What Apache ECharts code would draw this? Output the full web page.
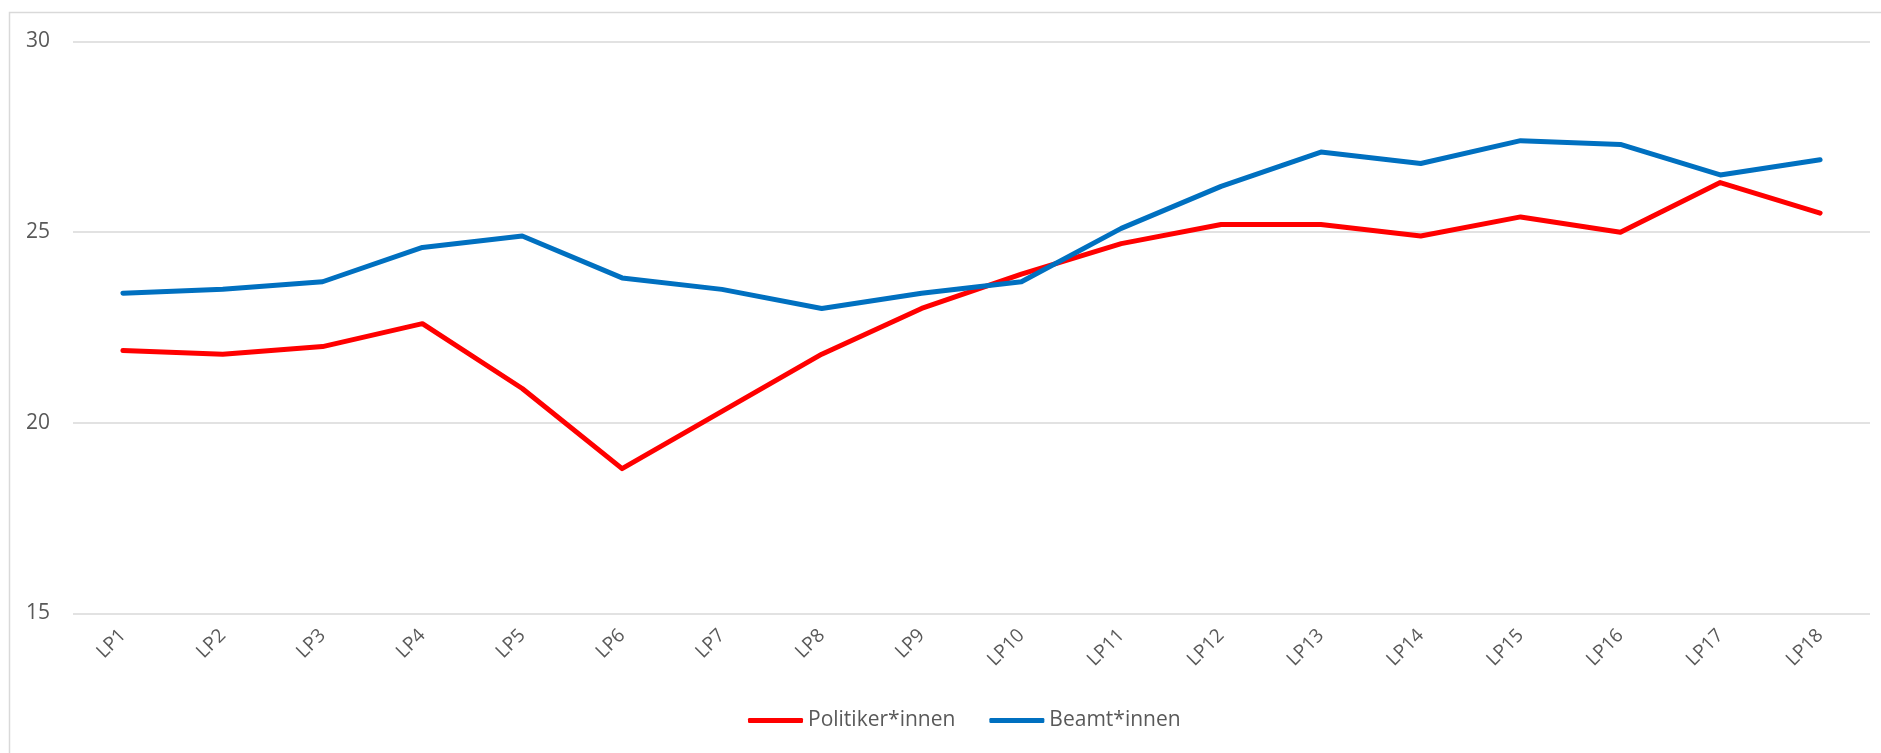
<!DOCTYPE html>
<html><head><meta charset="utf-8">
<script src="https://cdn.jsdelivr.net/npm/echarts@6/dist/echarts.min.js"></script>
<style>html,body{margin:0;padding:0;background:#fff}#c{width:1881px;height:753px}</style>
</head><body><div id="c"></div>
<script>
const categories = ['LP1','LP2','LP3','LP4','LP5','LP6','LP7','LP8','LP9','LP10','LP11','LP12','LP13','LP14','LP15','LP16','LP17','LP18'];
const politiker = [21.9,21.8,22.0,22.6,20.9,18.8,20.3,21.8,23.0,23.9,24.7,25.2,25.2,24.9,25.4,25.0,26.3,25.5];
const beamte = [23.4,23.5,23.7,24.6,24.9,23.8,23.5,23.0,23.4,23.7,25.1,26.2,27.1,26.8,27.4,27.3,26.5,26.9];
const seriesNames = ['Politiker*innen','Beamt*innen'];
const yTicks = {min:15, max:30, interval:5};

const font = '"Open Sans","Noto Sans",sans-serif';
const chart = echarts.init(document.getElementById('c'));
chart.setOption({
  animation:false,
  backgroundColor:'#fff',
  graphic:[{type:'rect', shape:{x:9.5,y:12.5,width:1900,height:800}, style:{fill:'none',stroke:'#d9d9d9',lineWidth:1.5}, silent:true}],
  grid:{left:73,right:11,top:41.5,bottom:139.5,containLabel:false},
  legend:{
    bottom:17, left:743,
    icon:'roundRect',
    itemWidth:55, itemHeight:5, itemGap:34,
    textStyle:{fontFamily:font,fontSize:21,color:'#595959'},
    data:seriesNames
  },
  xAxis:{
    type:'category', data:categories, boundaryGap:true,
    axisLine:{show:false}, axisTick:{show:false},
    axisLabel:{rotate:45, color:'#595959', fontFamily:font, fontSize:19, margin:19}
  },
  yAxis:{
    type:'value', min:yTicks.min, max:yTicks.max, interval:yTicks.interval,
    axisLine:{show:false}, axisTick:{show:false},
    splitLine:{lineStyle:{color:'#d9d9d9',width:1.5}},
    axisLabel:{color:'#595959', fontFamily:font, fontSize:21, margin:23}
  },
  series:[
    {name:seriesNames[0], type:'line', data:politiker, symbol:'none', color:'#FF0000',
     lineStyle:{color:'#FF0000',width:5,cap:'round',join:'round'}},
    {name:seriesNames[1], type:'line', data:beamte, symbol:'none', color:'#0070C0',
     lineStyle:{color:'#0070C0',width:5,cap:'round',join:'round'}}
  ]
});
</script></body></html>
